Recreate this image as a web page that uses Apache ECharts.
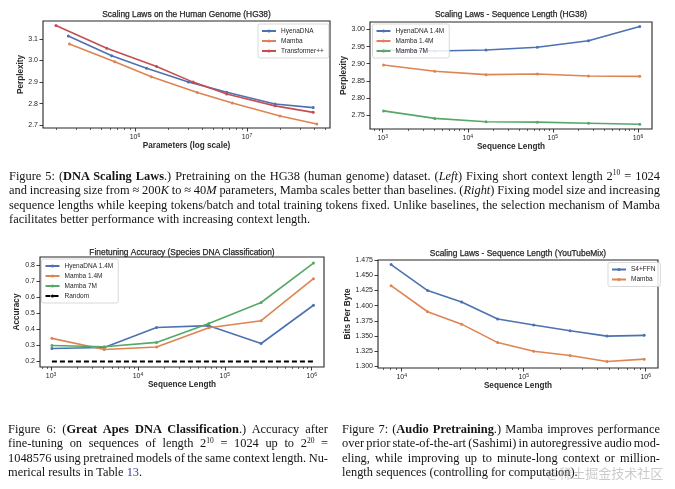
<!DOCTYPE html>
<html><head><meta charset="utf-8">
<script src="https://cdn.jsdelivr.net/npm/echarts@6/dist/echarts.min.js"></script>
<style>
html,body{margin:0;padding:0;background:#fff;}
#wrap{position:relative;width:675px;height:489px;overflow:hidden;background:#fff;}
#chart{position:absolute;left:0;top:0;width:675px;height:489px;}
.cap{position:absolute;font-family:'Liberation Serif','DejaVu Serif',serif;font-size:12.4px;line-height:14.3px;color:#141414;}
.cap .ln{white-space:nowrap;}
.cap sup{font-size:7.5px;vertical-align:0;position:relative;top:-4.8px;line-height:0;}
.cap .lk{color:#3a3aa8;}
.wm{position:absolute;left:547px;top:463px;font-family:'Noto Sans CJK SC',sans-serif;font-size:13px;color:rgba(150,150,150,0.5);white-space:nowrap;}
</style></head>
<body>
<div id="wrap">
<div id="chart"></div>
<div class="cap" style="left:9px;top:169px;width:651px;">
<div class="ln" data-j="1"><span>Figure 5: (<b>DNA Scaling Laws</b>.) Pretraining on the HG38 (human genome) dataset. (<i>Left</i>) Fixing short context length 2<sup>10</sup> = 1024</span></div>
<div class="ln" data-j="1"><span>and increasing size from ≈ 200<i>K</i> to ≈ 40<i>M</i> parameters, Mamba scales better than baselines. (<i>Right</i>) Fixing model size and increasing</span></div>
<div class="ln" data-j="1"><span>sequence lengths while keeping tokens/batch and total training tokens fixed. Unlike baselines, the selection mechanism of Mamba</span></div>
<div class="ln"><span>facilitates better performance with increasing context length.</span></div>
</div>
<div class="cap" style="left:8px;top:422px;width:320px;">
<div class="ln" data-j="1"><span>Figure 6: (<b>Great Apes DNA Classification</b>.) Accuracy after</span></div>
<div class="ln" data-j="1"><span>fine-tuning on sequences of length 2<sup>10</sup> = 1024 up to 2<sup>20</sup> =</span></div>
<div class="ln" data-j="1"><span>1048576 using pretrained models of the same context length. Nu-</span></div>
<div class="ln"><span>merical results in Table <span class="lk">13</span>.</span></div>
</div>
<div class="cap" style="left:342px;top:422px;width:318px;">
<div class="ln" data-j="1"><span>Figure 7: (<b>Audio Pretraining</b>.) Mamba improves performance</span></div>
<div class="ln" data-j="1"><span>over prior state-of-the-art (Sashimi) in autoregressive audio mod-</span></div>
<div class="ln" data-j="1"><span>eling, while improving up to minute-long context or million-</span></div>
<div class="ln"><span>length sequences (controlling for computation).</span></div>
</div>
<div class="wm">@稀土掘金技术社区</div>
</div>
<script>
// ---------- data ----------
// Fig 5 left: parameters vs perplexity
const hgParamsHyena = [2.54e5, 6.2e5, 1.27e6, 3.0e6, 6.6e6, 1.78e7, 3.9e7];
const hgPplHyena    = [3.114, 3.022, 2.964, 2.901, 2.853, 2.799, 2.782];
const hgParamsMamba = [2.6e5, 6.6e5, 1.4e6, 3.6e6, 7.4e6, 1.97e7, 4.2e7];
const hgPplMamba    = [3.077, 2.994, 2.925, 2.852, 2.803, 2.743, 2.706];
const hgParamsTrans = [1.97e5, 5.6e5, 1.56e6, 3.3e6, 6.6e6, 1.78e7, 3.9e7];
const hgPplTrans    = [3.162, 3.057, 2.972, 2.900, 2.845, 2.790, 2.760];
// Fig 5 right: sequence length vs perplexity
const seqLens        = [1024, 4096, 16384, 65536, 262144, 1048576];
const hgSeqHyena     = [2.940, 2.937, 2.940, 2.948, 2.967, 3.009];
const hgSeqMamba14   = [2.896, 2.878, 2.868, 2.870, 2.864, 2.863];
const hgSeqMamba7    = [2.762, 2.740, 2.730, 2.729, 2.726, 2.723];
// Fig 6: accuracy
const apesHyena   = [0.281, 0.287, 0.412, 0.423, 0.312, 0.550];
const apesMamba14 = [0.344, 0.275, 0.290, 0.410, 0.454, 0.715];
const apesMamba7  = [0.300, 0.292, 0.319, 0.437, 0.567, 0.812];
const apesRandom  = [0.2, 0.2, 0.2, 0.2, 0.2, 0.2];
// Fig 7: audio
const audioLens  = [8192, 16330, 31000, 61200, 120800, 240000, 482000, 972000];
const audioS4    = [1.468, 1.425, 1.406, 1.378, 1.368, 1.3585, 1.3497, 1.351];
const audioMamba = [1.433, 1.390, 1.3695, 1.339, 1.3248, 1.3177, 1.3077, 1.3116];
// tick labels
const ticksPpl1 = [2.7, 2.8, 2.9, 3.0, 3.1];
const ticksPpl2 = [2.75, 2.80, 2.85, 2.90, 2.95, 3.00];
const ticksAcc  = [0.2, 0.3, 0.4, 0.5, 0.6, 0.7, 0.8];
const ticksBpb  = [1.300, 1.325, 1.350, 1.375, 1.400, 1.425, 1.450, 1.475];
// titles
const titles = ['Scaling Laws on the Human Genome (HG38)', 'Scaling Laws - Sequence Length (HG38)',
  'Finetuning Accuracy (Species DNA Classification)', 'Scaling Laws - Sequence Length (YouTubeMix)'];

// ---------- styling ----------
const ink = '#262626';
const COL = {blue:'#4C72B0', orange:'#DD8452', green:'#55A868', red:'#C44E52'};
const FF = "'Liberation Sans', Arial, sans-serif";
const nameStyle = {fontSize:8.2, fontWeight:'bold', color:'#2a2a2a', fontFamily:FF};

function majors(lo, hi){ const o=[]; for(let e=Math.ceil(Math.log10(lo)); Math.pow(10,e)<=hi; e++) o.push(Math.pow(10,e)); return o; }
function minors(lo, hi){ const o=[]; for(let e=Math.floor(Math.log10(lo)); e<=Math.ceil(Math.log10(hi)); e++) for(let m=2;m<=9;m++){ const v=m*Math.pow(10,e); if(v>lo && v<hi) o.push(v);} return o; }

function xAxes(grid, lo, hi, name, nameGap){
  const maj = majors(lo,hi), mn = minors(lo,hi);
  return [{
    type:'log', gridIndex:grid, min:lo, max:hi, position:'bottom',
    name, nameLocation:'middle', nameGap, nameTextStyle:nameStyle,
    axisLine:{show:false, onZero:false},
    axisTick:{show:true, length:3.5, lineStyle:{color:ink, width:0.9}, customValues:maj},
    axisLabel:{customValues:maj, margin:5, fontSize:7, color:ink, fontFamily:FF,
      formatter: v => '10{s|' + Math.round(Math.log10(v)) + '}',
      rich:{s:{fontSize:5, color:ink, fontFamily:FF, verticalAlign:'top', padding:[0,0,3,0]}}},
    splitLine:{show:false}, minorTick:{show:false}, minorSplitLine:{show:false}
  },{
    type:'log', gridIndex:grid, min:lo, max:hi, position:'bottom',
    axisLine:{show:false, onZero:false},
    axisTick:{show:true, length:2, lineStyle:{color:ink, width:0.7}, customValues:mn},
    axisLabel:{show:false}, splitLine:{show:false}
  }];
}
function yAxis(grid, lo, hi, ticks, dec, name, nameGap){
  return {type:'value', gridIndex:grid, min:lo, max:hi,
    name, nameLocation:'middle', nameGap, nameRotate:90, nameTextStyle:nameStyle,
    axisLine:{show:false, onZero:false},
    axisTick:{show:true, length:3.5, lineStyle:{color:ink, width:0.9}, customValues:ticks},
    axisLabel:{customValues:ticks, margin:5, fontSize:7, color:ink, fontFamily:FF, formatter: v => v.toFixed(dec)},
    splitLine:{show:false}};
}
function line(name, xs, ys, color, xi, yi, extra){
  return Object.assign({type:'line', name, xAxisIndex:xi, yAxisIndex:yi,
    data: xs.map((x,i)=>[x, ys[i]]), symbol:'circle', symbolSize:3, showSymbol:true,
    lineStyle:{width:1.6, color}, itemStyle:{color}, emphasis:{disabled:true}, silent:true, animation:false, z:3}, extra||{});
}
function legend(names, left, top){
  return {data:names, orient:'vertical', left, top, padding:[3,5,3,3], itemGap:2, itemWidth:14, itemHeight:4,
    backgroundColor:'rgba(255,255,255,0.85)', borderColor:'#cfcfcf', borderWidth:0.8, borderRadius:2,
    textStyle:{fontSize:6.5, color:ink, lineHeight:8, fontFamily:FF}, selectedMode:false, z:10};
}
const gridBase = {show:true, borderColor:ink, borderWidth:1.1, backgroundColor:'transparent', containLabel:false, outerBoundsMode:'none'};
const g = [
  {left:43, top:21, width:287, height:107},
  {left:370, top:22, width:282, height:107},
  {left:40, top:257, width:284, height:110},
  {left:378, top:260, width:280, height:108}
].map(o => Object.assign({}, gridBase, o));

const xr = [[Math.pow(10,5.179), Math.pow(10,7.741)], [Math.pow(10,2.851), Math.pow(10,6.165)],
            [Math.pow(10,2.873), Math.pow(10,6.142)], [Math.pow(10,3.806), Math.pow(10,6.101)]];

const option = {
  animation:false,
  textStyle:{fontFamily:FF},
  grid:g,
  xAxis:[].concat(
    xAxes(0, xr[0][0], xr[0][1], 'Parameters (log scale)', 14),
    xAxes(1, xr[1][0], xr[1][1], 'Sequence Length', 13),
    xAxes(2, xr[2][0], xr[2][1], 'Sequence Length', 13),
    xAxes(3, xr[3][0], xr[3][1], 'Sequence Length', 12)),
  yAxis:[
    yAxis(0, 2.6875, 3.183, ticksPpl1, 1, 'Perplexity', 17),
    yAxis(1, 2.709, 3.022, ticksPpl2, 2, 'Perplexity', 20.5),
    yAxis(2, 0.166, 0.85, ticksAcc, 1, 'Accuracy', 19),
    yAxis(3, 1.297, 1.4755, ticksBpb, 3, 'Bits Per Byte', 25)],
  legend:[
    legend(['HyenaDNA','Mamba','Transformer++'], 258, 24),
    legend(['HyenaDNA 1.4M','Mamba 1.4M','Mamba 7M'], 372.5, 24),
    legend(['HyenaDNA 1.4M','Mamba 1.4M','Mamba 7M','Random'], 41.5, 259),
    legend(['S4+FFN','Mamba'], 608, 262.5)],
  graphic: titles.map((t,i) => ({type:'text', x:[186.5,511,182,518][i], y:[15,15,252.3,253.3][i],
    style:{text:t, fill:ink, font:'8.4px ' + FF, textAlign:'center', textVerticalAlign:'middle',
      stroke:ink, lineWidth:0.25}, z:20})),
  series:[
    line('HyenaDNA', hgParamsHyena, hgPplHyena, COL.blue, 0, 0),
    line('Mamba', hgParamsMamba, hgPplMamba, COL.orange, 0, 0),
    line('Transformer++', hgParamsTrans, hgPplTrans, COL.red, 0, 0),
    line('HyenaDNA 1.4M', seqLens, hgSeqHyena, COL.blue, 2, 1),
    line('Mamba 1.4M', seqLens, hgSeqMamba14, COL.orange, 2, 1),
    line('Mamba 7M', seqLens, hgSeqMamba7, COL.green, 2, 1),
    line('HyenaDNA 1.4M', seqLens, apesHyena, COL.blue, 4, 2),
    line('Mamba 1.4M', seqLens, apesMamba14, COL.orange, 4, 2),
    line('Mamba 7M', seqLens, apesMamba7, COL.green, 4, 2),
    line('Random', seqLens, apesRandom, '#000000', 4, 2, {symbol:'none', showSymbol:false, lineStyle:{width:2, color:'#000', type:[5,3]}}),
    line('S4+FFN', audioLens, audioS4, COL.blue, 6, 3),
    line('Mamba', audioLens, audioMamba, COL.orange, 6, 3)
  ]
};
const chart = echarts.init(document.getElementById('chart'), null, {renderer:'canvas'});
chart.setOption(option);

// justify caption lines
document.querySelectorAll('.cap').forEach(cap => {
  const W = cap.clientWidth;
  cap.querySelectorAll('.ln[data-j]').forEach(ln => {
    const sp = ln.firstElementChild;
    const w = sp.getBoundingClientRect().width;
    const n = (sp.textContent.match(/ /g) || []).length;
    if (n > 0) sp.style.wordSpacing = ((W - w) / n) + 'px';
  });
});
</script>
</body></html>
